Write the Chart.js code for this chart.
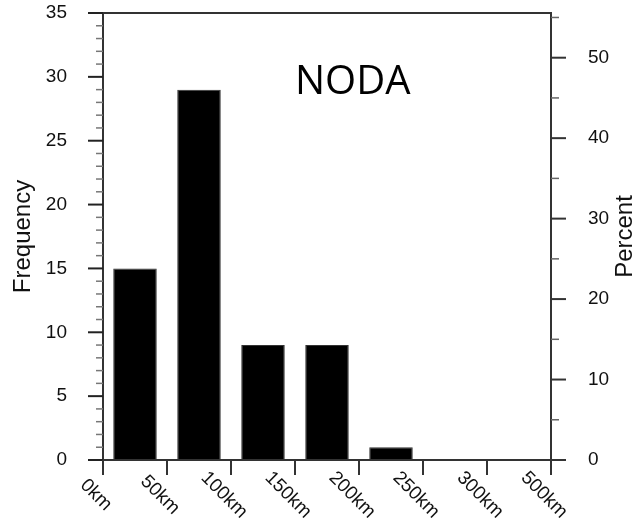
<!DOCTYPE html>
<html>
<head>
<meta charset="utf-8">
<script src="https://cdn.jsdelivr.net/npm/chart.js@4"></script>
<style>
  body { margin: 0; background: #fff; }
  #wrap { width: 637px; height: 524px; }
</style>
</head>
<body>
<div id="wrap"><canvas id="hist" width="637" height="524"></canvas></div>
<script>
// --- 1. DATA ---
const bins = ['0-50km', '50-100km', '100-150km', '150-200km', '200-250km', '250-300km', '300-500km'];
const edgeLabels = ['0km', '50km', '100km', '150km', '200km', '250km', '300km', '500km'];
const frequency = [15, 29, 9, 9, 1, 0, 0];
const freqTicks = [0, 5, 10, 15, 20, 25, 30, 35];
const percentTicks = [0, 10, 20, 30, 40, 50];
const panelName = 'NODA';

const total = frequency.reduce((a, b) => a + b, 0);
const freqMax = 35;
const percentMax = freqMax / total * 100; // right axis mirrors the left one

// --- 2. HELPERS ---
function line(ctx, x1, y1, x2, y2, width, color) {
  ctx.beginPath();
  ctx.lineWidth = width;
  ctx.strokeStyle = color;
  ctx.moveTo(x1, y1);
  ctx.lineTo(x2, y2);
  ctx.stroke();
}

// vertical axes shouldn't reserve extra room for their end labels
function noEndPadding(s) {
  s.paddingTop = 0;
  s.paddingBottom = 0;
}

// frame, tick marks, rotated bin-edge labels and titles
const decorations = {
  id: 'decorations',
  afterDraw(chart) {
    const ctx = chart.ctx;
    const area = chart.chartArea;
    const x = chart.scales.x;
    const y = chart.scales.y;
    const y2 = chart.scales.y2;
    ctx.save();
    ctx.lineCap = 'butt';

    // box around the plot
    ctx.lineWidth = 2;
    ctx.strokeStyle = '#333';
    ctx.strokeRect(area.left, area.top, area.right - area.left, area.bottom - area.top);

    // left ticks: minor every 1, major every 5
    for (let v = 0; v <= freqMax; v++) {
      const py = y.getPixelForValue(v);
      if (v % 5 === 0) line(ctx, area.left - 15, py, area.left, py, 2, '#222');
      else line(ctx, area.left - 7, py, area.left, py, 1.5, '#777');
    }

    // right ticks: minor every 5, major every 10
    for (let v = 0; v <= percentMax; v += 5) {
      const py = y2.getPixelForValue(v);
      if (v % 10 === 0) line(ctx, area.right, py, area.right + 15, py, 2, '#333');
      else line(ctx, area.right, py, area.right + 8, py, 1.5, '#666');
    }

    // bottom ticks on bin edges + labels
    ctx.font = '19px "Liberation Sans", Arial, sans-serif';
    ctx.fillStyle = '#111';
    ctx.textAlign = 'center';
    ctx.textBaseline = 'middle';
    edgeLabels.forEach((lab, i) => {
      const px = x.getPixelForValue(i - 0.5);
      line(ctx, px, area.bottom, px, area.bottom + 15, 2, '#333');
      ctx.save();
      ctx.translate(px - 7, area.bottom + 35);
      ctx.rotate(Math.PI / 4);
      ctx.fillText(lab, 0, 0);
      ctx.restore();
    });

    // axis titles, both read bottom to top
    const midY = (area.top + area.bottom) / 2;
    ctx.font = '24px "Liberation Sans", Arial, sans-serif';
    ctx.textBaseline = 'alphabetic';
    ctx.save();
    ctx.translate(30, midY);
    ctx.rotate(-Math.PI / 2);
    ctx.fillText('Frequency', 0, 0);
    ctx.restore();
    ctx.save();
    ctx.translate(632, midY);
    ctx.rotate(-Math.PI / 2);
    ctx.fillText('Percent', 0, 0);
    ctx.restore();

    // panel name
    ctx.font = '40px "Open Sans", sans-serif';
    ctx.textAlign = 'left';
    ctx.fillStyle = '#000';
    ctx.fillText(panelName, 295, 94);

    ctx.restore();
  }
};

// --- 3. CHART ---
Chart.defaults.font.family = '"Liberation Sans", Arial, sans-serif';
Chart.defaults.font.size = 19;
Chart.defaults.color = '#111';

new Chart(document.getElementById('hist'), {
  type: 'bar',
  data: {
    labels: bins,
    datasets: [{
      data: frequency,
      backgroundColor: '#000',
      borderColor: '#333',
      borderWidth: 1,
      barPercentage: 0.68,
      categoryPercentage: 1.0
    }]
  },
  options: {
    responsive: false,
    animation: false,
    layout: { padding: { top: 13 } },
    plugins: { legend: { display: false }, tooltip: { enabled: false } },
    scales: {
      x: {
        offset: true,
        grid: { display: false },
        border: { display: false },
        ticks: { display: false },
        afterFit: s => { s.height = 64; }
      },
      y: {
        position: 'left',
        min: 0,
        max: freqMax,
        grid: { display: false },
        border: { display: false },
        ticks: { padding: 28 },
        afterBuildTicks: s => { s.ticks = freqTicks.map(v => ({ value: v })); },
        afterFit: s => { s.width = 103; noEndPadding(s); }
      },
      y2: {
        position: 'right',
        min: 0,
        max: percentMax,
        grid: { display: false },
        border: { display: false },
        ticks: { padding: 29 },
        afterBuildTicks: s => { s.ticks = percentTicks.map(v => ({ value: v })); },
        afterFit: s => { s.width = 86; noEndPadding(s); }
      }
    }
  },
  plugins: [decorations]
});
</script>
</body>
</html>
